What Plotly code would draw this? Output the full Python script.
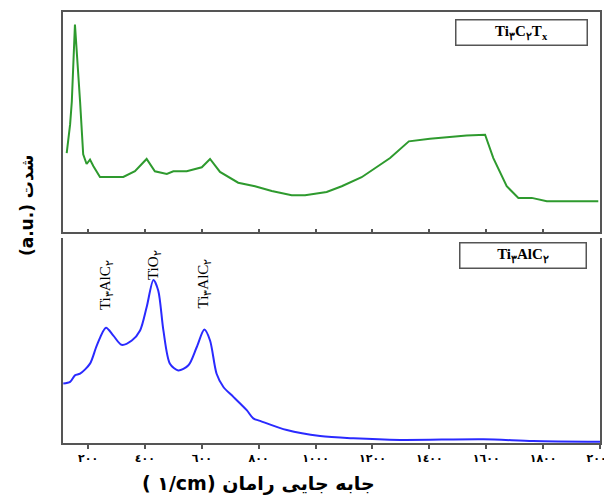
import plotly.graph_objects as go

# Ti3C2Tx (top panel) Raman spectrum
green_x = [125, 137, 143, 154, 172, 183, 195, 207, 219, 242, 324, 365, 406, 435, 477, 500,
           547, 600, 629, 664, 728, 787, 846, 916, 963, 1039, 1092, 1139, 1162, 1262, 1328,
           1402, 1531, 1596, 1625, 1672, 1713, 1760, 1813, 1994]
green_y = [35.9, 48.9, 59.3, 94.3, 59.3, 35.3, 30.9, 32.9, 29.9, 25.0, 25.0, 27.6, 33.2, 27.6,
           26.4, 27.6, 27.6, 29.4, 33.2, 27.3, 22.4, 20.8, 18.6, 16.7, 16.7, 18.2, 20.8, 23.5,
           24.9, 33.6, 41.2, 42.4, 43.9, 44.2, 33.6, 20.8, 15.5, 15.5, 14.0, 14.0]

# Ti3AlC2 (bottom panel) Raman spectrum
blue_x = [113, 137, 154, 172, 207, 231, 263, 289, 318, 354, 383, 406, 430, 447, 465, 488,
          517, 553, 582, 609, 629, 652, 676, 711, 758, 781, 805, 899, 1016, 1133, 1297,
          1590, 1765, 2000]
blue_y = [29.0, 29.8, 33.0, 33.8, 38.7, 47.6, 56.2, 52.4, 47.9, 50.0, 54.9, 66.2, 79.5,
          74.3, 54.9, 38.7, 35.4, 37.9, 46.7, 55.3, 50.0, 33.8, 27.3, 22.5, 16.0, 12.0,
          10.8, 6.3, 3.4, 2.3, 1.5, 1.8, 1.0, 0.6]

tick_vals = [200, 400, 600, 800, 1000, 1200, 1400, 1600, 1800, 2000]
tick_text = ["٢٠٠", "٤٠٠", "٦٠٠", "٨٠٠", "١٠٠٠", "١٢٠٠", "١٤٠٠", "١٦٠٠", "١٨٠٠", "٢٠٠٠"]

peak_x = [263, 430, 609]
peak_labels = ["Ti<sub>۳</sub>AlC<sub>۲</sub>", "TiO<sub>۲</sub>", "Ti<sub>۳</sub>AlC<sub>۲</sub>"]
peak_label_y = [77, 87, 78]

fig = go.Figure()
fig.add_trace(go.Scatter(x=green_x, y=green_y, mode="lines", xaxis="x2", yaxis="y2",
                         line=dict(color="#2e9a2e", width=2), showlegend=False))
fig.add_trace(go.Scatter(x=blue_x, y=blue_y, mode="lines", xaxis="x", yaxis="y",
                         line=dict(color="#2a2aff", width=2, shape="spline", smoothing=0.8),
                         showlegend=False))

axcol = "#555555"
fig.update_layout(
    width=612, height=492,
    margin=dict(l=55, r=20, t=2, b=57),
    plot_bgcolor="white", paper_bgcolor="white",
    xaxis=dict(domain=[0, 1], anchor="y", range=[112, 2000], showgrid=False, zeroline=False,
               showline=True, linecolor=axcol, linewidth=2, ticks="outside", ticklen=4,
               tickwidth=1.5, tickcolor=axcol, tickvals=tick_vals, ticktext=tick_text,
               tickfont=dict(family="DejaVu Sans", size=11, color="black", weight="bold")),
    yaxis=dict(domain=[0, 0.4757], anchor="x", range=[0, 100], showgrid=False, zeroline=False,
               showline=True, mirror=True, linecolor=axcol, linewidth=2, showticklabels=False,
               ticks=""),
    xaxis2=dict(domain=[0, 1], anchor="y2", matches="x", range=[112, 2000], showgrid=False,
                zeroline=False, showline=True, mirror=True, linecolor=axcol, linewidth=2,
                ticks="inside", ticklen=3, tickwidth=1.5, tickcolor=axcol,
                tickvals=tick_vals[:-1], showticklabels=False),
    yaxis2=dict(domain=[0.4896, 1], anchor="x2", range=[0, 100], showgrid=False, zeroline=False,
                showline=True, mirror=True, linecolor=axcol, linewidth=2, showticklabels=False,
                ticks=""),
)

# panel labels
fig.add_annotation(xref="paper", yref="paper", x=(521 - 63) / 537, y=(443 - 31) / 433,
                   xanchor="center", yanchor="middle",
                   text="<b>Ti<sub>۳</sub>C<sub>۲</sub>T<sub>x</sub></b>", showarrow=False,
                   font=dict(family="Liberation Serif", size=15, color="black"),
                   bordercolor=axcol, borderwidth=1.5, width=128, height=22, borderpad=1)
fig.add_annotation(xref="paper", yref="paper", x=(523 - 63) / 537, y=(443 - 255) / 433,
                   xanchor="center", yanchor="middle",
                   text="<b>Ti<sub>۳</sub>AlC<sub>۲</sub></b>", showarrow=False,
                   font=dict(family="Liberation Serif", size=15, color="black"),
                   bordercolor=axcol, borderwidth=1.5, width=123, height=22, borderpad=1)

# peak labels
for px, lab, py in zip(peak_x, peak_labels, peak_label_y):
    fig.add_annotation(x=px, y=py, xref="x", yref="y", text=lab, showarrow=False,
                       textangle=-90, xanchor="center", yanchor="middle",
                       font=dict(family="Liberation Serif", size=15, color="black"))

# axis titles
fig.add_annotation(xref="paper", yref="paper", x=(258 - 63) / 537, y=(443 - 484) / 433,
                   text="<b>( ١/cm) جابه جایی رامان</b>", showarrow=False,
                   xanchor="center", yanchor="middle",
                   font=dict(family="DejaVu Sans", size=19, color="black"))
fig.add_annotation(xref="paper", yref="paper", x=(27 - 63) / 537, y=(443 - 204) / 433,
                   text="<b>(a.u.) شدت</b>", showarrow=False, textangle=-90,
                   xanchor="center", yanchor="middle",
                   font=dict(family="DejaVu Sans", size=17, color="black"))

fig.write_html("out.html")
